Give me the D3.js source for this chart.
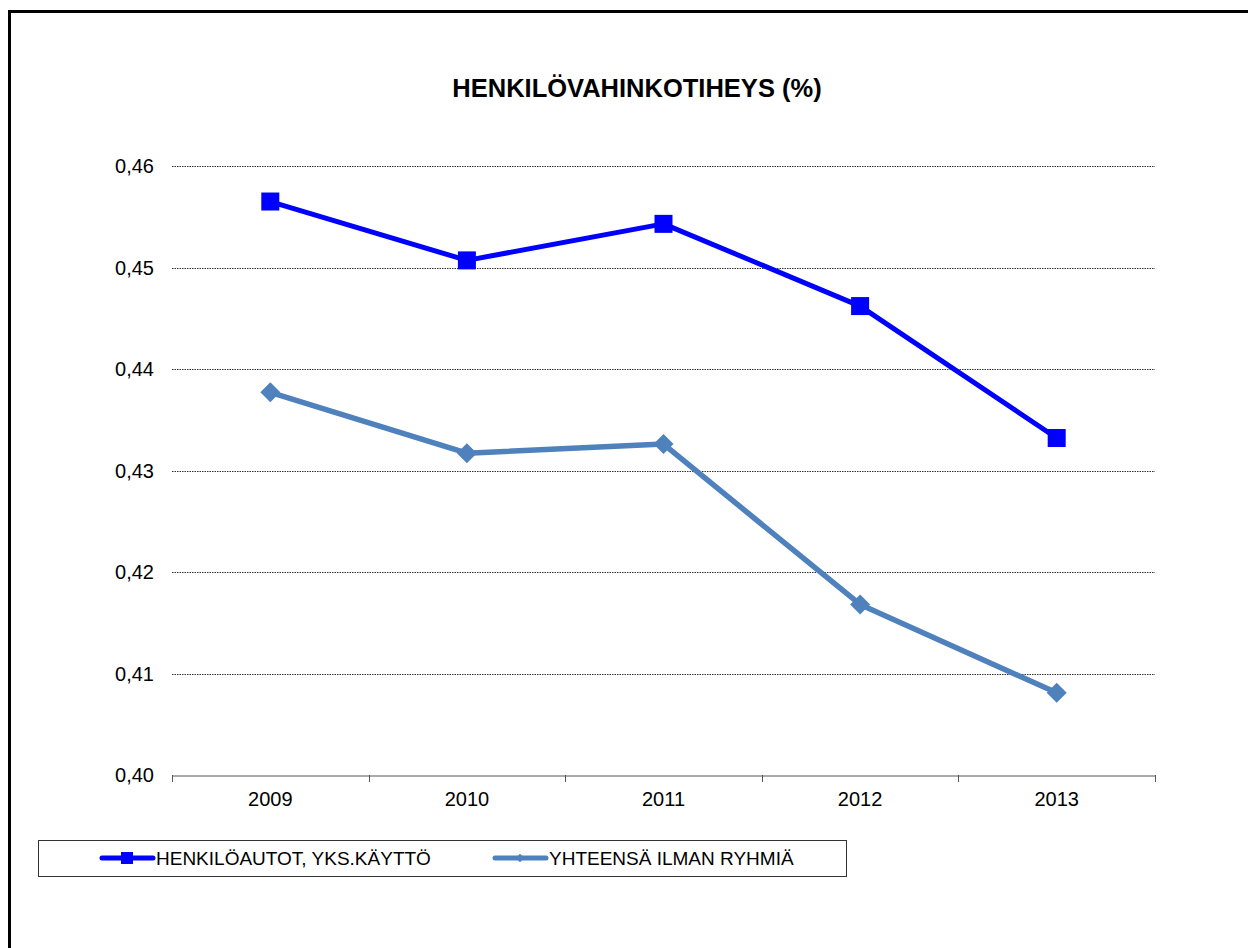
<!DOCTYPE html>
<html><head><meta charset="utf-8">
<script src="https://cdn.jsdelivr.net/npm/d3@7"></script>
<style>body{margin:0;background:#fff}svg{display:block}text{font-family:"Liberation Sans",Arial,sans-serif}</style>
</head><body>
<script>
const categories = ["2009","2010","2011","2012","2013"];
const seriesNames = ["HENKILÖAUTOT, YKS.KÄYTTÖ","YHTEENSÄ ILMAN RYHMIÄ"];
const henkiloautot = [0.4565,0.4507,0.4543,0.4462,0.4332];
const yhteensa = [0.4377,0.4317,0.4326,0.4168,0.4081];
const yTicks = [0.40,0.41,0.42,0.43,0.44,0.45,0.46];
const title = "HENKILÖVAHINKOTIHEYS (%)";

const W=1248,H=948;
const svg=d3.select("body").append("svg").attr("width",W).attr("height",H);
svg.append("rect").attr("width",W).attr("height",H).attr("fill","#fff");
svg.append("path").attr("d",`M9.5,${H} L9.5,11.5 L${W},11.5`).attr("fill","none").attr("stroke","#000").attr("stroke-width",3);

svg.append("text").attr("x",637).attr("y",97).attr("text-anchor","middle")
  .attr("font-size",25.5).attr("font-weight","bold").text(title);

const x=d3.scaleBand().domain(categories).range([172,1155]);
const y=d3.scaleLinear().domain([0.40,0.46]).range([775,166]);

svg.append("g").selectAll("line").data(yTicks.slice(1)).join("line")
  .attr("x1",172).attr("x2",1155).attr("y1",d=>Math.round(y(d))+0.5).attr("y2",d=>Math.round(y(d))+0.5)
  .attr("stroke","#333").attr("stroke-width",1).attr("stroke-dasharray","1.5,1");

svg.append("g").selectAll("text").data(yTicks).join("text")
  .attr("x",154).attr("y",d=>y(d)+7).attr("text-anchor","end").attr("font-size",20)
  .text(d=>d3.format(".2f")(d).replace(".",","));

const xa=svg.append("g").attr("transform","translate(0,775.5)")
  .call(d3.axisBottom(x).tickSize(0).tickPadding(16));
xa.select(".domain").attr("stroke","#555");
xa.selectAll("text").attr("font-size",20).attr("font-family","Liberation Sans, Arial, sans-serif").attr("fill","#000");
const bounds=categories.map(c=>x(c)).concat([x.range()[1]]);
svg.append("g").selectAll("line").data(bounds).join("line")
  .attr("x1",d=>Math.round(d)+0.5).attr("x2",d=>Math.round(d)+0.5).attr("y1",775).attr("y2",782)
  .attr("stroke","#555");

const cx=c=>x(c)+x.bandwidth()/2;
const line=d3.line().x((d,i)=>cx(categories[i])).y(d=>y(d));

const c1="#0000FF", c2="#4F81BD";
svg.append("path").datum(henkiloautot).attr("d",line).attr("fill","none").attr("stroke",c1).attr("stroke-width",5).attr("stroke-linejoin","round");
svg.append("path").datum(yhteensa).attr("d",line).attr("fill","none").attr("stroke",c2).attr("stroke-width",5.5).attr("stroke-linejoin","round");

svg.append("g").selectAll("rect").data(henkiloautot).join("rect")
  .attr("x",(d,i)=>cx(categories[i])-9).attr("y",d=>y(d)-9).attr("width",18).attr("height",18).attr("fill",c1);
svg.append("g").selectAll("path").data(yhteensa).join("path")
  .attr("d",d3.symbol(d3.symbolSquare,200))
  .attr("transform",(d,i)=>`translate(${cx(categories[i])},${y(d)}) rotate(45)`).attr("fill",c2);

svg.append("rect").attr("x",38.5).attr("y",840.5).attr("width",808).attr("height",36).attr("fill","#fff").attr("stroke","#333");
const leg=[{n:seriesNames[0],c:c1,x:100,m:"sq"},{n:seriesNames[1],c:c2,x:493,m:"di"}];
leg.forEach(l=>{
  svg.append("line").attr("x1",l.x+2).attr("x2",l.x+53).attr("y1",858).attr("y2",858).attr("stroke",l.c).attr("stroke-width",5).attr("stroke-linecap","round");
  if(l.m==="sq") svg.append("rect").attr("x",l.x+21).attr("y",852).attr("width",12).attr("height",12).attr("fill",l.c);
  else svg.append("path").attr("d",d3.symbol(d3.symbolSquare,36)).attr("transform",`translate(${l.x+27},858) rotate(45)`).attr("fill",l.c);
  svg.append("text").attr("x",l.x+56).attr("y",865).attr("font-size",19).text(l.n);
});
</script>
</body></html>
